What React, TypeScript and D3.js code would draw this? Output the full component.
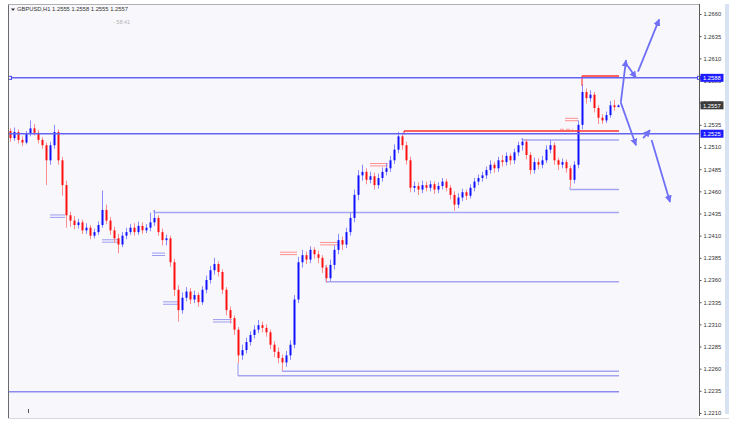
import * as d3 from "d3";
import { useEffect, useRef } from "react";

// GBPUSD H1 bars (open = previous close)
const firstOpen = 1.2528;
const closes = [
  1.2520, 1.2527, 1.2518, 1.2515, 1.2525, 1.2531, 1.2526, 1.2518, 1.2512, 1.2495,
  1.2512, 1.2527, 1.2495, 1.2467, 1.2433, 1.2427, 1.2422, 1.2425, 1.2416, 1.2419,
  1.2410, 1.2414, 1.2422, 1.2439, 1.2427, 1.2416, 1.2407, 1.2400, 1.2410, 1.2414,
  1.2419, 1.2414, 1.2421, 1.2416, 1.2419, 1.2425, 1.2430, 1.2414, 1.2405, 1.2407,
  1.2380, 1.2349, 1.2326, 1.2340, 1.2347, 1.2338, 1.2343, 1.2335, 1.2349, 1.2360,
  1.2371, 1.2378, 1.2369, 1.2349, 1.2326, 1.2317, 1.2304, 1.2275, 1.2281, 1.2290,
  1.2298, 1.2304, 1.2309, 1.2306, 1.2301, 1.2287, 1.2279, 1.2272, 1.2267, 1.2275,
  1.2287, 1.2338, 1.2380, 1.2388, 1.2383, 1.2394, 1.2389, 1.2385, 1.2374, 1.2362,
  1.2377, 1.2394, 1.2405, 1.2400, 1.2414, 1.2430, 1.2456, 1.2478, 1.2482, 1.2473,
  1.2477, 1.2467, 1.2475, 1.2482, 1.2486, 1.2495, 1.2507, 1.2522, 1.2512, 1.2495,
  1.2464, 1.2466, 1.2462, 1.2467, 1.2464, 1.2468, 1.2462, 1.2466, 1.2471, 1.2464,
  1.2456, 1.2445, 1.2453, 1.2459, 1.2455, 1.2464, 1.2471, 1.2475, 1.2478, 1.2484,
  1.2490, 1.2486, 1.2495, 1.2493, 1.2500, 1.2495, 1.2504, 1.2512, 1.2516, 1.2501,
  1.2484, 1.2493, 1.2490, 1.2495, 1.2507, 1.2512, 1.2495, 1.2490, 1.2493, 1.2486,
  1.2473, 1.2490, 1.2535, 1.2572, 1.2565, 1.2569, 1.2554, 1.2543, 1.2540, 1.2546,
  1.2557, 1.2555, 1.2557,
];
const highs = [
  1.2531, 1.2532, 1.2530, 1.2522, 1.2528, 1.2540, 1.2536, 1.2529, 1.2521, 1.2515,
  1.2516, 1.2535, 1.2530, 1.2499, 1.2472, 1.2437, 1.2432, 1.2429, 1.2428, 1.2424,
  1.2422, 1.2418, 1.2426, 1.2461, 1.2445, 1.2431, 1.2420, 1.2412, 1.2414, 1.2419,
  1.2423, 1.2424, 1.2426, 1.2425, 1.2423, 1.2436, 1.2439, 1.2433, 1.2418, 1.2411,
  1.2410, 1.2384, 1.2354, 1.2346, 1.2352, 1.2351, 1.2348, 1.2346, 1.2353, 1.2365,
  1.2376, 1.2385, 1.2381, 1.2372, 1.2352, 1.2330, 1.2320, 1.2307, 1.2287, 1.2295,
  1.2302, 1.2309, 1.2315, 1.2313, 1.2310, 1.2304, 1.2291, 1.2284, 1.2276, 1.2280,
  1.2292, 1.2343, 1.2386, 1.2394, 1.2392, 1.2398, 1.2397, 1.2393, 1.2388, 1.2377,
  1.2383, 1.2399, 1.2412, 1.2409, 1.2419, 1.2436, 1.2462, 1.2484, 1.2490, 1.2486,
  1.2482, 1.2481, 1.2480, 1.2487, 1.2492, 1.2500, 1.2513, 1.2527, 1.2526, 1.2516,
  1.2499, 1.2471, 1.2470, 1.2472, 1.2471, 1.2472, 1.2471, 1.2470, 1.2475, 1.2474,
  1.2467, 1.2460, 1.2458, 1.2463, 1.2462, 1.2468, 1.2475, 1.2479, 1.2482, 1.2488,
  1.2495, 1.2493, 1.2499, 1.2501, 1.2504, 1.2503, 1.2508, 1.2516, 1.2520, 1.2519,
  1.2504, 1.2498, 1.2497, 1.2500, 1.2512, 1.2518, 1.2515, 1.2498, 1.2497, 1.2496,
  1.2489, 1.2494, 1.2540, 1.2581, 1.2576, 1.2574, 1.2572, 1.2557, 1.2547, 1.2550,
  1.2562, 1.2563, 1.2558,
];
const lows = [
  1.2516, 1.2517, 1.2514, 1.2511, 1.2513, 1.2522, 1.2523, 1.2514, 1.2508, 1.2467,
  1.2490, 1.2508, 1.2490, 1.2455, 1.2419, 1.2420, 1.2417, 1.2418, 1.2412, 1.2412,
  1.2406, 1.2407, 1.2411, 1.2419, 1.2423, 1.2411, 1.2402, 1.2390, 1.2397, 1.2406,
  1.2411, 1.2410, 1.2411, 1.2412, 1.2413, 1.2415, 1.2421, 1.2410, 1.2399, 1.2399,
  1.2375, 1.2342, 1.2313, 1.2322, 1.2336, 1.2333, 1.2334, 1.2330, 1.2332, 1.2345,
  1.2356, 1.2366, 1.2364, 1.2344, 1.2320, 1.2311, 1.2298, 1.2266, 1.2270, 1.2277,
  1.2286, 1.2294, 1.2300, 1.2301, 1.2296, 1.2282, 1.2273, 1.2266, 1.2258, 1.2262,
  1.2270, 1.2283, 1.2334, 1.2374, 1.2378, 1.2379, 1.2384, 1.2379, 1.2368, 1.2357,
  1.2359, 1.2372, 1.2389, 1.2394, 1.2396, 1.2410, 1.2425, 1.2450, 1.2472, 1.2468,
  1.2469, 1.2462, 1.2463, 1.2471, 1.2478, 1.2482, 1.2491, 1.2503, 1.2507, 1.2490,
  1.2459, 1.2459, 1.2456, 1.2458, 1.2460, 1.2460, 1.2457, 1.2458, 1.2462, 1.2460,
  1.2451, 1.2438, 1.2441, 1.2449, 1.2450, 1.2452, 1.2460, 1.2467, 1.2471, 1.2474,
  1.2480, 1.2481, 1.2482, 1.2488, 1.2489, 1.2490, 1.2491, 1.2500, 1.2506, 1.2496,
  1.2479, 1.2480, 1.2485, 1.2486, 1.2492, 1.2503, 1.2490, 1.2484, 1.2486, 1.2481,
  1.2465, 1.2469, 1.2486, 1.2530, 1.2559, 1.2561, 1.2549, 1.2536, 1.2536, 1.2537,
  1.2543, 1.2551, 1.2555,
];

const yTicks = [
  1.221, 1.2235, 1.226, 1.2285, 1.231, 1.2335, 1.236, 1.2385, 1.241, 1.2435,
  1.246, 1.2485, 1.251, 1.2535, 1.256, 1.2585, 1.261, 1.2635, 1.266,
];
const title = "GBPUSD,H1  1.2555 1.2558 1.2555 1.2557";
const timer = "- 58:41";
const bidPrice = 1.2557;

// full-width horizontal levels
const levels = [1.2588, 1.2525];
// support / resistance lines starting at a bar index
const supportLines = [
  { from: -0.5, price: 1.2234 },
  { from: 36, price: 1.2436 },
  { from: 57, price: 1.2252 },
  { from: 68, price: 1.2257 },
  { from: 79, price: 1.2358 },
  { from: 128, price: 1.2518 },
  { from: 140, price: 1.2462 },
];
const redLines = [
  { from: 98.5, price: 1.2528 },
  { from: 143, price: 1.259 },
];
// trade history marks (double lines)
const buyMarks = [
  { from: 10, to: 13.75, price: 1.2432 },
  { from: 23, to: 27, price: 1.2404 },
  { from: 35.5, to: 38.75, price: 1.2389 },
  { from: 38.25, to: 42, price: 1.2334 },
  { from: 50.75, to: 55.5, price: 1.2314 },
];
const sellMarks = [
  { from: 67.5, to: 71.75, price: 1.239 },
  { from: 77.5, to: 82, price: 1.2401 },
  { from: 90, to: 94.5, price: 1.249 },
  { from: 138.75, to: 142, price: 1.2541 },
];
const sellDash = { from: 137.5, to: 140.75, price: 1.253 };
// scenario arrows: [barFrom, priceFrom, barTo, priceTo]
const arrows = [
  [152.7, 1.256, 154, 1.2608],
  [154.5, 1.2601, 156.5, 1.2588],
  [157, 1.2595, 162.3, 1.2654],
  [152.7, 1.256, 156.5, 1.2512],
  [158.3, 1.252, 160, 1.2529],
  [160.4, 1.2518, 165, 1.2448],
];

export default function App() {
  const svgRef = useRef<SVGSVGElement | null>(null);

  useEffect(() => {
    if (!svgRef.current) return;
    const svg = d3.select(svgRef.current);
    svg.selectAll("*").remove();

    const totalW = 743;
    const totalH = 433;
    const plot = { left: 8, right: 699, top: 4, bottom: 418 };
    const font = "'Liberation Sans', Arial, sans-serif";

    svg.attr("width", totalW).attr("height", totalH);

    const x = d3.scaleLinear().domain([0, closes.length - 1]).range([10, 618]);
    const y = d3.scaleLinear().domain([1.221, 1.266]).range([413, 14]);
    const lineEnd = x(closes.length - 0.75);

    svg.append("rect").attr("width", totalW).attr("height", totalH).attr("fill", "#ffffff");
    svg.append("rect")
      .attr("x", plot.left)
      .attr("y", plot.top)
      .attr("width", plot.right - plot.left)
      .attr("height", plot.bottom - plot.top)
      .attr("fill", "#f8f8fc");

    // scrollbar strip
    svg.append("rect")
      .attr("x", 725)
      .attr("y", plot.top)
      .attr("width", 4)
      .attr("height", plot.bottom - plot.top - 4)
      .attr("fill", "#d7e2f2");

    const g = svg.append("g");

    // support lines
    supportLines.forEach((s) => {
      const sx = s.from < 0 ? plot.left : x(s.from);
      g.append("line")
        .attr("x1", sx).attr("x2", lineEnd)
        .attr("y1", y(s.price)).attr("y2", y(s.price))
        .attr("stroke", s.from < 0 ? "#8c8cf0" : "#a4a4f2")
        .attr("stroke-width", 1.5);
      if (s.from >= 0) {
        const i = Math.round(s.from);
        const edge = s.price < lows[i] ? lows[i] : highs[i];
        g.append("line")
          .attr("x1", sx).attr("x2", sx)
          .attr("y1", y(edge)).attr("y2", y(s.price))
          .attr("stroke", "#a4a4f2")
          .attr("stroke-width", 1.2);
      }
    });

    // trade marks
    const marks = (list: typeof buyMarks, color: string) => {
      list.forEach((m) => {
        [-1.2, 1.2].forEach((off) => {
          g.append("line")
            .attr("x1", x(m.from)).attr("x2", x(m.to))
            .attr("y1", y(m.price) + off).attr("y2", y(m.price) + off)
            .attr("stroke", color)
            .attr("stroke-width", 1);
        });
      });
    };
    marks(buyMarks, "#9c9cf0");
    marks(sellMarks, "#ff8f8f");
    g.append("line")
      .attr("x1", x(sellDash.from)).attr("x2", x(sellDash.to))
      .attr("y1", y(sellDash.price)).attr("y2", y(sellDash.price))
      .attr("stroke", "#ff9a9a")
      .attr("stroke-dasharray", "4,2")
      .attr("stroke-width", 1);

    // candles
    closes.forEach((c, i) => {
      const o = i === 0 ? firstOpen : closes[i - 1];
      const up = c >= o;
      const cx = Math.round(x(i)) + 0.5;
      g.append("line")
        .attr("x1", cx).attr("x2", cx)
        .attr("y1", y(highs[i])).attr("y2", y(lows[i]))
        .attr("stroke", up ? "#8a8aff" : "#ff8c8c")
        .attr("stroke-width", 1);
      const top = y(Math.max(o, c));
      const bot = y(Math.min(o, c));
      g.append("rect")
        .attr("x", cx - 1)
        .attr("y", top)
        .attr("width", 2)
        .attr("height", Math.max(1, bot - top))
        .attr("fill", up ? "#1010ff" : "#ff1010");
    });

    // red lines
    redLines.forEach((r) => {
      const i = Math.floor(r.from);
      const rx = x(r.from);
      g.append("line")
        .attr("x1", rx).attr("x2", rx)
        .attr("y1", y(r.price)).attr("y2", y(Math.min(highs[i], r.price) - 0.0002))
        .attr("stroke", "#ff4040")
        .attr("stroke-width", 1.2);
      g.append("line")
        .attr("x1", rx).attr("x2", lineEnd)
        .attr("y1", y(r.price)).attr("y2", y(r.price))
        .attr("stroke", "#ff3030")
        .attr("stroke-width", 1.5);
    });

    // full levels
    levels.forEach((p) => {
      g.append("line")
        .attr("x1", plot.left).attr("x2", plot.right)
        .attr("y1", y(p)).attr("y2", y(p))
        .attr("stroke", "#6464f4")
        .attr("stroke-width", 1.5);
    });
    [plot.left + 2, plot.right].forEach((hx) => {
      g.append("rect")
        .attr("x", hx - 1.5).attr("y", y(levels[0]) - 1.5)
        .attr("width", 3).attr("height", 3)
        .attr("fill", "#f8f8fc")
        .attr("stroke", "#4646f0")
        .attr("stroke-width", 1);
    });

    // arrows
    const defs = svg.append("defs");
    defs.append("marker")
      .attr("id", "head")
      .attr("viewBox", "0 0 10 10")
      .attr("refX", 9).attr("refY", 5)
      .attr("markerWidth", 4).attr("markerHeight", 4)
      .attr("orient", "auto")
      .append("path")
      .attr("d", "M0,0 L10,5 L0,10 z")
      .attr("fill", "#7070f6");
    arrows.forEach(([b0, p0, b1, p1]) => {
      g.append("line")
        .attr("x1", x(b0)).attr("y1", y(p0))
        .attr("x2", x(b1)).attr("y2", y(p1))
        .attr("stroke", "#7070f6")
        .attr("stroke-width", 1.8)
        .attr("marker-end", "url(#head)");
    });

    // frame
    svg.append("line")
      .attr("x1", plot.left + 0.5).attr("x2", plot.left + 0.5)
      .attr("y1", plot.top).attr("y2", plot.bottom)
      .attr("stroke", "#6a6a6a");
    svg.append("line")
      .attr("x1", plot.left).attr("x2", plot.right)
      .attr("y1", plot.top + 0.5).attr("y2", plot.top + 0.5)
      .attr("stroke", "#b0b0b0");
    svg.append("line")
      .attr("x1", plot.left).attr("x2", 729)
      .attr("y1", plot.bottom + 0.5).attr("y2", plot.bottom + 0.5)
      .attr("stroke", "#d8d8d8");
    svg.append("line")
      .attr("x1", plot.right + 0.5).attr("x2", plot.right + 0.5)
      .attr("y1", plot.top).attr("y2", plot.bottom - 2)
      .attr("stroke", "#5a5a5a");
    svg.append("line")
      .attr("x1", 28.5).attr("x2", 28.5)
      .attr("y1", 409).attr("y2", 413)
      .attr("stroke", "#555");

    // right price axis
    const axis = svg.append("g")
      .attr("transform", `translate(${plot.right + 0.5},0)`)
      .call(
        d3.axisRight(y)
          .tickValues(yTicks)
          .tickSize(2)
          .tickSizeOuter(0)
          .tickPadding(2)
          .tickFormat((d) => d3.format(".4f")(d as number))
      );
    axis.select(".domain").remove();
    axis.selectAll(".tick line").attr("stroke", "#555");
    axis.selectAll(".tick text")
      .attr("font-family", font)
      .attr("font-size", 5.8)
      .attr("fill", "#333");

    const priceBox = (p: number, fill: string) => {
      svg.append("rect")
        .attr("x", 700.5).attr("y", y(p) - 4)
        .attr("width", 23).attr("height", 8)
        .attr("fill", fill);
      svg.append("text")
        .attr("x", 703).attr("y", y(p) + 2.2)
        .attr("font-family", font)
        .attr("font-size", 5.8)
        .attr("fill", "#ffffff")
        .text(d3.format(".4f")(p));
    };
    priceBox(bidPrice, "#3c3c3c");
    levels.forEach((p) => priceBox(p, "#1c1cff"));

    // header
    svg.append("path")
      .attr("d", "M11,8.5 L15,8.5 L13,11 z")
      .attr("fill", "#333");
    svg.append("text")
      .attr("x", 17).attr("y", 11)
      .attr("font-family", font)
      .attr("font-size", 5.8)
      .attr("fill", "#333")
      .text(title);
    svg.append("text")
      .attr("x", 113).attr("y", 23.5)
      .attr("font-family", font)
      .attr("font-size", 5.5)
      .attr("fill", "#b4b4b4")
      .text(timer);
  }, []);

  return <svg ref={svgRef} style={{ position: "absolute", left: 0, top: 0 }} />;
}
